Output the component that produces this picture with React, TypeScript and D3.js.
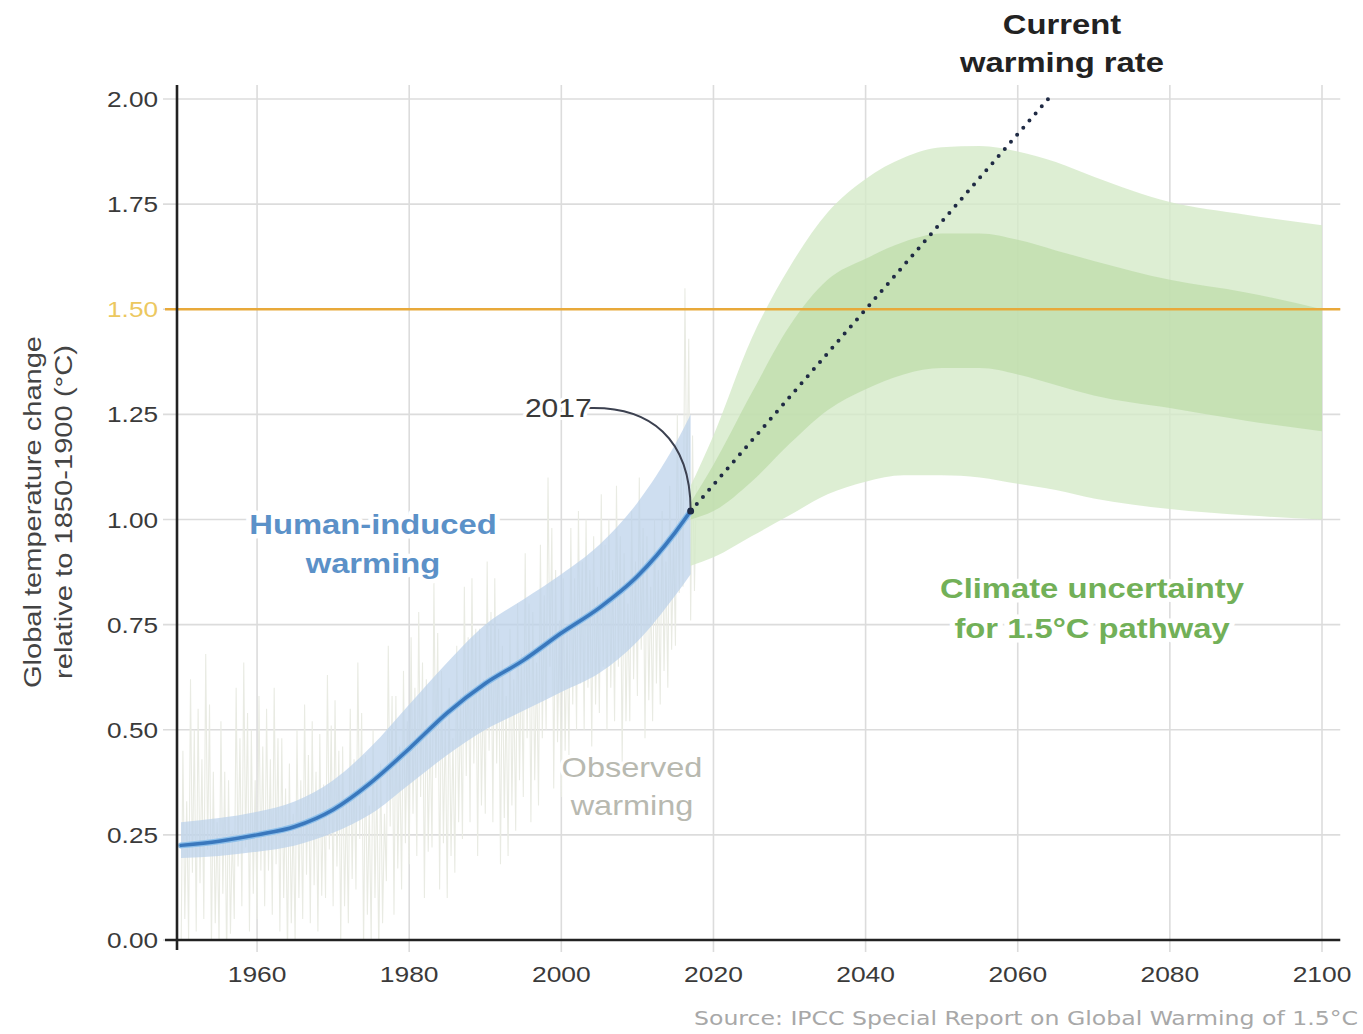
import React from "react";
import * as d3 from "d3";

const W = 1363;
const H = 1034;

const yTicks = [0, 0.25, 0.5, 0.75, 1.0, 1.25, 1.5, 1.75, 2.0];
const xTicks = [1960, 1980, 2000, 2020, 2040, 2060, 2080, 2100];

// Human-induced warming (median) and likely range
const humanYears = [1950, 1955, 1960, 1965, 1970, 1975, 1980, 1985, 1990, 1995, 2000, 2005, 2010, 2015, 2017];
const humanMid = [0.225, 0.235, 0.25, 0.27, 0.31, 0.375, 0.455, 0.54, 0.61, 0.665, 0.73, 0.79, 0.865, 0.97, 1.02];
const humanHigh = [0.28, 0.29, 0.305, 0.33, 0.38, 0.46, 0.56, 0.66, 0.75, 0.81, 0.87, 0.94, 1.04, 1.18, 1.25];
const humanLow = [0.195, 0.2, 0.21, 0.225, 0.255, 0.3, 0.37, 0.44, 0.5, 0.545, 0.59, 0.635, 0.71, 0.82, 0.87];

// Observed warming (yearly low/high of monthly values), 1950-2017
const obsStart = 1950;
const obsHigh = [
  0.45, 0.62, 0.55, 0.68, 0.4, 0.52, 0.38, 0.6, 0.66, 0.5,
  0.58, 0.55, 0.6, 0.48, 0.42, 0.5, 0.56, 0.52, 0.49, 0.63,
  0.57, 0.46, 0.55, 0.66, 0.44, 0.5, 0.42, 0.7, 0.58, 0.64,
  0.72, 0.78, 0.62, 0.85, 0.64, 0.6, 0.7, 0.84, 0.86, 0.74,
  0.9, 0.86, 0.7, 0.74, 0.8, 0.92, 0.78, 0.94, 1.1, 0.88,
  0.86, 0.98, 1.02, 1.0, 0.96, 1.06, 1.0, 1.08, 0.92, 1.02,
  1.1, 0.96, 1.0, 1.02, 1.08, 1.25, 1.55, 1.2,
];
const obsLow = [
  -0.05, 0.0, 0.02, 0.05, -0.02, 0.0, -0.05, 0.05, 0.08, 0.02,
  0.05, 0.08, 0.06, 0.02, -0.04, 0.0, 0.05, 0.04, 0.02, 0.1,
  0.08, 0.0, 0.04, 0.12, -0.02, 0.0, -0.04, 0.14, 0.06, 0.12,
  0.18, 0.2, 0.1, 0.22, 0.12, 0.1, 0.16, 0.24, 0.28, 0.2,
  0.3, 0.28, 0.18, 0.2, 0.26, 0.34, 0.28, 0.32, 0.5, 0.36,
  0.34, 0.44, 0.5, 0.5, 0.46, 0.54, 0.5, 0.52, 0.42, 0.52,
  0.58, 0.48, 0.52, 0.56, 0.6, 0.7, 0.84, 0.76,
];

// 1.5°C pathway climate uncertainty
const pathYears = [2017, 2020, 2025, 2030, 2035, 2040, 2045, 2050, 2055, 2060, 2065, 2070, 2080, 2090, 2100];
const outerHigh = [1.08, 1.2, 1.43, 1.6, 1.73, 1.81, 1.86, 1.885, 1.888, 1.875, 1.85, 1.815, 1.755, 1.725, 1.7];
const outerLow = [0.89, 0.91, 0.96, 1.01, 1.06, 1.09, 1.105, 1.105, 1.1, 1.085, 1.07, 1.05, 1.025, 1.01, 1.0];
const innerHigh = [1.04, 1.13, 1.3, 1.46, 1.57, 1.62, 1.66, 1.68, 1.68, 1.665, 1.64, 1.615, 1.57, 1.54, 1.5];
const innerLow = [1.0, 1.02, 1.09, 1.18, 1.26, 1.31, 1.345, 1.36, 1.36, 1.345, 1.32, 1.295, 1.265, 1.235, 1.21];

// Current warming rate extrapolation
const rateYears = [2017, 2064];
const rateValues = [1.02, 2.0];

const threshold = 1.5;

type TProps = {
  x: number;
  y: number;
  sx?: number;
  size: number;
  fill: string;
  weight?: string;
  anchor?: "start" | "middle" | "end";
  halo?: number;
  children: React.ReactNode;
};

function SText({ x, y, sx = 1.17, size, fill, weight = "normal", anchor = "middle", halo = 0, children }: TProps) {
  return (
    <text
      transform={`translate(${x},${y}) scale(${sx},1)`}
      textAnchor={anchor}
      fontSize={size}
      fontWeight={weight}
      fill={fill}
      stroke={halo ? "#fff" : "none"}
      strokeWidth={halo}
      strokeLinejoin="round"
      style={{ paintOrder: "stroke" }}
    >
      {children}
    </text>
  );
}

export default function App() {
  const x = d3.scaleLinear().domain([1950, 2100]).range([181, 1322]);
  const y = d3.scaleLinear().domain([0, 2]).range([940, 99]);
  const xEnd = x(2102.4);
  const axisX = 177;

  const font = "'Liberation Sans', Arial, Helvetica, sans-serif";

  const humanArea = d3
    .area<number>()
    .x((_, i) => x(humanYears[i]))
    .y0((_, i) => y(humanLow[i]))
    .y1((_, i) => y(humanHigh[i]))
    .curve(d3.curveMonotoneX);
  const humanLine = d3
    .line<number>()
    .x((_, i) => x(humanYears[i]))
    .y((d) => y(d))
    .curve(d3.curveMonotoneX);

  const outerArea = d3
    .area<number>()
    .x((_, i) => x(pathYears[i]))
    .y0((_, i) => y(outerLow[i]))
    .y1((_, i) => y(outerHigh[i]))
    .curve(d3.curveMonotoneX);
  const innerArea = d3
    .area<number>()
    .x((_, i) => x(pathYears[i]))
    .y0((_, i) => y(innerLow[i]))
    .y1((_, i) => y(innerHigh[i]))
    .curve(d3.curveMonotoneX);

  // observed zigzag
  const obsPts: [number, number][] = [];
  obsHigh.forEach((h, i) => {
    const yr = obsStart + i;
    obsPts.push([x(yr), y(obsLow[i])]);
    obsPts.push([x(yr + 0.25), y(h)]);
    obsPts.push([x(yr + 0.5), y((obsLow[i] + h) / 2 - 0.15)]);
    obsPts.push([x(yr + 0.75), y(h - 0.12)]);
  });
  const obsPath = d3.line()(obsPts) || "";

  const ratePath = d3.line()(rateYears.map((yr, i) => [x(yr), y(rateValues[i])] as [number, number])) || "";

  const endX = x(2017);
  const endY = y(1.02);
  const lblX = x(1999.6);
  const lblY = y(1.265);
  const connStartX = x(2003.5);
  const connector = `M${connStartX},${lblY} C${connStartX + 62},${lblY - 2} ${endX},${lblY + 30} ${endX},${endY}`;

  return (
    <svg width={W} height={H} style={{ position: "absolute", left: 0, top: 0, background: "#fff" }} fontFamily={font}>
      <defs>
        <clipPath id="plot">
          <rect x={axisX} y={80} width={xEnd - axisX} height={940 - 80} />
        </clipPath>
      </defs>
      <rect width={W} height={H} fill="#fff" />

      {/* grid */}
      {yTicks.map((t) => (
        <line key={"gy" + t} x1={163} x2={xEnd} y1={y(t)} y2={y(t)} stroke="#dcdcdc" strokeWidth={1.6} />
      ))}
      {xTicks.map((t) => (
        <line key={"gx" + t} x1={x(t)} x2={x(t)} y1={85} y2={952} stroke="#dcdcdc" strokeWidth={1.6} />
      ))}

      {/* observed warming */}
      <g clipPath="url(#plot)">
        <path d={obsPath} fill="none" stroke="#e9ebe3" strokeWidth={1.1} />
      </g>

      {/* human-induced band */}
      <path d={humanArea(humanMid) || ""} fill="#b9d0ea" fillOpacity={0.7} />

      {/* pathway bands */}
      <path d={outerArea(outerHigh) || ""} fill="#d4eac8" fillOpacity={0.8} />
      <path d={innerArea(innerHigh) || ""} fill="#bddcaa" fillOpacity={0.75} />

      {/* 1.5 line */}
      <line x1={165} x2={xEnd} y1={y(threshold)} y2={y(threshold)} stroke="#e8a93a" strokeWidth={2.6} />

      {/* human line */}
      <path d={humanLine(humanMid) || ""} fill="none" stroke="#8fc0ea" strokeWidth={6} strokeLinecap="round" />
      <path d={humanLine(humanMid) || ""} fill="none" stroke="#3a78bd" strokeWidth={3.5} strokeLinecap="round" />

      {/* current warming rate */}
      <path d={ratePath} fill="none" stroke="#1f2a44" strokeWidth={4} strokeDasharray="0 9.4" strokeLinecap="round" />

      {/* 2017 annotation */}
      <path d={connector} fill="none" stroke="#3c4150" strokeWidth={2} />
      <circle cx={endX} cy={endY} r={3.5} fill="#1f2a44" />
      <SText x={lblX} y={lblY + 9} size={25} sx={1.2} fill="#3a3a3a" halo={6}>
        2017
      </SText>

      {/* axes */}
      <line x1={axisX} x2={axisX} y1={85} y2={950} stroke="#222" strokeWidth={2.6} />
      <line x1={165} x2={xEnd} y1={940} y2={940} stroke="#222" strokeWidth={2.6} />

      {/* y tick labels */}
      {yTicks.map((t) => (
        <SText
          key={"ty" + t}
          x={158}
          y={y(t) + 8}
          anchor="end"
          size={22}
          sx={1.19}
          fill={t === threshold ? "#ecc860" : "#3a3a3a"}
        >
          {t.toFixed(2)}
        </SText>
      ))}
      {/* x tick labels */}
      {xTicks.map((t) => (
        <SText key={"tx" + t} x={x(t)} y={982} size={22} sx={1.2} fill="#3a3a3a">
          {t}
        </SText>
      ))}

      {/* y axis title */}
      <g transform={`translate(41,512) rotate(-90)`}>
        <text x={0} y={0} textAnchor="middle" fontSize={23} fill="#444" textLength={352} lengthAdjust="spacingAndGlyphs">
          Global temperature change
        </text>
        <text x={0} y={31} textAnchor="middle" fontSize={23} fill="#444" textLength={334} lengthAdjust="spacingAndGlyphs">
          relative to 1850-1900 (°C)
        </text>
      </g>

      {/* labels */}
      <SText x={1062} y={34} size={28} weight="bold" fill="#222">Current</SText>
      <SText x={1062} y={72} size={28} weight="bold" fill="#222">warming rate</SText>

      <SText x={373} y={534} size={28} weight="bold" fill="#5b91c8" halo={9}>Human-induced</SText>
      <SText x={373} y={573} size={28} weight="bold" fill="#5b91c8" halo={9}>warming</SText>

      <SText x={1092} y={598} size={28} weight="bold" fill="#72b058" halo={9}>Climate uncertainty</SText>
      <SText x={1092} y={638} size={28} weight="bold" fill="#72b058" halo={9}>for 1.5°C pathway</SText>

      <SText x={632} y={777} size={28} sx={1.16} fill="#b8b9b0" halo={6}>Observed</SText>
      <SText x={632} y={815} size={28} sx={1.16} fill="#b8b9b0" halo={6}>warming</SText>

      {/* source */}
      <text
        x={1358}
        y={1025}
        textAnchor="end"
        fontSize={19}
        fill="#a8a8a8"
        fontFamily="'DejaVu Sans Condensed', 'DejaVu Sans', sans-serif"
        textLength={664}
        lengthAdjust="spacingAndGlyphs"
      >
        Source: IPCC Special Report on Global Warming of 1.5°C
      </text>
    </svg>
  );
}
